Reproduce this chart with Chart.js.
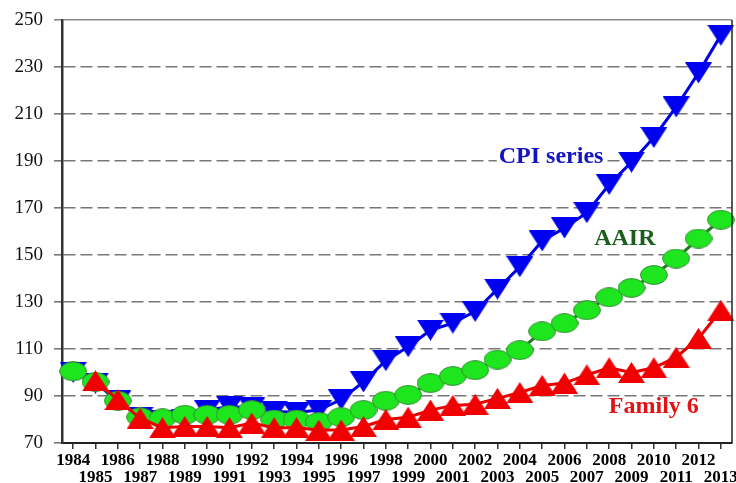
<!DOCTYPE html>
<html>
<head>
<meta charset="utf-8">
<script src="https://cdn.jsdelivr.net/npm/chart.js@4.4.1/dist/chart.umd.min.js"></script>
<style>
  html, body { margin: 0; padding: 0; background: #fff; overflow: hidden; }
  #wrap { position: relative; width: 749px; height: 486px; }
</style>
</head>
<body>
<div id="wrap"><canvas id="chart"></canvas></div>
<script>
// Price index series, 1984 = 100

const years = ['1984', '1985', '1986', '1987', '1988', '1989', '1990', '1991', '1992', '1993',
  '1994', '1995', '1996', '1997', '1998', '1999', '2000', '2001', '2002', '2003',
  '2004', '2005', '2006', '2007', '2008', '2009', '2010', '2011', '2012', '2013'];

const cpiSeries = [100, 95.5, 88, 81, 79.5, 80, 84, 85.5, 85, 83.5,
  83, 84, 88.5, 96, 105, 111, 118, 121, 126, 135.5,
  145, 156, 161.5, 168, 180, 189.5, 200, 213, 227.5, 243.5];

const aairSeries = [100.5, 96, 88, 81, 80.5, 82, 82, 82, 84, 80,
  80, 79, 81, 84, 88, 90.5, 95.5, 98.5, 101, 105.5,
  109.5, 117.5, 121, 126.5, 132, 136, 141.5, 148.5, 157, 165];

const family6Series = [null, 96.5, 88.5, 80.5, 76.5, 77, 77, 76.5, 78.5, 76.5,
  76.5, 75.5, 75.5, 77, 80, 81, 84, 86, 86.5, 89,
  91.5, 94.5, 95.5, 99, 102, 100, 102, 106.5, 114.5, 126.5];

const yTicks = { min: 70, max: 250, step: 10, labelEvery: 20 };

// series names written on the plot (anchor = category index, value)
const seriesLabels = [
  { text: 'CPI series', at: [21.4, 191.7], color: '#1414c4' },
  { text: 'AAIR', at: [24.7, 156.8], color: '#1c5e1c' },
  { text: 'Family 6', at: [26.0, 85.3], color: '#e01414' },
];

// ─── Marker sprites ─────────────────────────────────────────────────────────

function makeMarker(w, h, draw) {
  const c = document.createElement('canvas');
  c.width = w; c.height = h;
  draw(c.getContext('2d'), w, h);
  return c;
}

const downTriangle = makeMarker(27, 21, (g, w, h) => {
  g.fillStyle = '#0000f0';
  g.beginPath(); g.moveTo(0, 0); g.lineTo(w, 0); g.lineTo(w / 2, h); g.closePath(); g.fill();
});

const upTriangle = makeMarker(27, 21, (g, w, h) => {
  g.fillStyle = '#f00000';
  g.beginPath(); g.moveTo(0, h); g.lineTo(w, h); g.lineTo(w / 2, 0); g.closePath(); g.fill();
});

const ellipse = makeMarker(28, 20, (g, w, h) => {
  g.fillStyle = '#1ee61e';
  g.strokeStyle = '#378a37';
  g.lineWidth = 1;
  g.beginPath(); g.ellipse(w / 2, h / 2, w / 2 - 0.6, h / 2 - 0.6, 0, 0, Math.PI * 2);
  g.fill(); g.stroke();
});

// ─── Plugins ───────────────────────────────────────────────────────────────

const seriesLabelPlugin = {
  id: 'seriesLabels',
  afterDatasetsDraw(chart) {
    const { ctx, scales: { x, y } } = chart;
    ctx.save();
    ctx.font = 'bold 24px "Liberation Serif", "Times New Roman", serif';
    ctx.textAlign = 'center';
    ctx.textBaseline = 'middle';
    seriesLabels.forEach(l => {
      const px = x.getPixelForValue(l.at[0]);
      const py = y.getPixelForValue(l.at[1]);
      const w = ctx.measureText(l.text).width;
      ctx.fillStyle = '#fff';
      ctx.fillRect(px - w / 2 - 2, py - 10, w + 4, 20);
      ctx.fillStyle = l.color;
      ctx.fillText(l.text, px, py);
    });
    ctx.restore();
  },
};

// right-hand frame line of the plot box
const framePlugin = {
  id: 'frame',
  afterDraw(chart) {
    const { ctx, chartArea: a } = chart;
    ctx.save();
    ctx.strokeStyle = '#222';
    ctx.lineWidth = 1.5;
    ctx.beginPath();
    ctx.moveTo(a.right, a.top);
    ctx.lineTo(a.right, a.bottom);
    ctx.stroke();
    ctx.restore();
  },
};

const isMajor = v => (v - yTicks.min) % yTicks.labelEvery === 0;
const isEdge = v => v === yTicks.min || v === yTicks.max;

// ─── Chart ─────────────────────────────────────────────────────────────────

new Chart(document.getElementById('chart'), {
  type: 'line',
  data: {
    labels: years,
    datasets: [
      {
        label: 'CPI series',
        data: cpiSeries,
        borderColor: '#0000e0',
        borderWidth: 3,
        pointStyle: downTriangle,
        order: 3,
      },
      {
        label: 'AAIR',
        data: aairSeries,
        borderColor: '#1f7a1f',
        borderWidth: 3,
        pointStyle: ellipse,
        order: 2,
      },
      {
        label: 'Family 6',
        data: family6Series,
        borderColor: '#e80000',
        borderWidth: 3,
        pointStyle: upTriangle,
        order: 1,
      },
    ],
  },
  options: {
    responsive: true,
    maintainAspectRatio: false,
    animation: false,
    events: [],
    layout: { padding: { left: 14, right: 5, top: 20, bottom: 0 } },
    elements: { line: { tension: 0 }, point: { radius: 14 } },
    plugins: {
      legend: { display: false },
      tooltip: { enabled: false },
    },
    scales: {
      x: {
        offset: true,
        grid: { drawOnChartArea: false, offset: false, tickLength: 6, color: '#333', lineWidth: 1.5 },
        border: { color: '#222', width: 2 },
        ticks: {
          autoSkip: false,
          maxRotation: 0,
          padding: 3,
          color: '#000',
          font: { family: '"Liberation Serif", "Times New Roman", serif', size: 17, weight: 'bold', lineHeight: 1 },
          callback: (v, i) => (i % 2 === 0 ? [years[i], ''] : ['', years[i]]),
        },
        afterFit: s => { s.paddingLeft = 0; s.paddingRight = 0; s.height = 43; },
      },
      y: {
        min: yTicks.min,
        max: yTicks.max,
        grid: {
          tickLength: 8,
          color: c => (c.tick && c.tick.value === yTicks.max ? '#888' : c.tick && isMajor(c.tick.value) ? '#777' : '#666'),
          lineWidth: c => (c.tick && isMajor(c.tick.value) ? 1.6 : 1),
        },
        border: {
          color: '#333',
          width: 2.5,
          dash: c => (!c.tick || isEdge(c.tick.value) ? [] : isMajor(c.tick.value) ? [12, 5] : [2, 2]),
        },
        ticks: {
          stepSize: yTicks.step,
          padding: 11,
          color: '#111',
          font: { family: '"Liberation Serif", "Times New Roman", serif', size: 19 },
          callback: v => (isMajor(v) ? String(v) : ''),
        },
        afterFit: s => { s.width = 48; s.paddingTop = 0; s.paddingBottom = 0; },
      },
    },
  },
  plugins: [seriesLabelPlugin, framePlugin],
});
</script>
</body>
</html>
